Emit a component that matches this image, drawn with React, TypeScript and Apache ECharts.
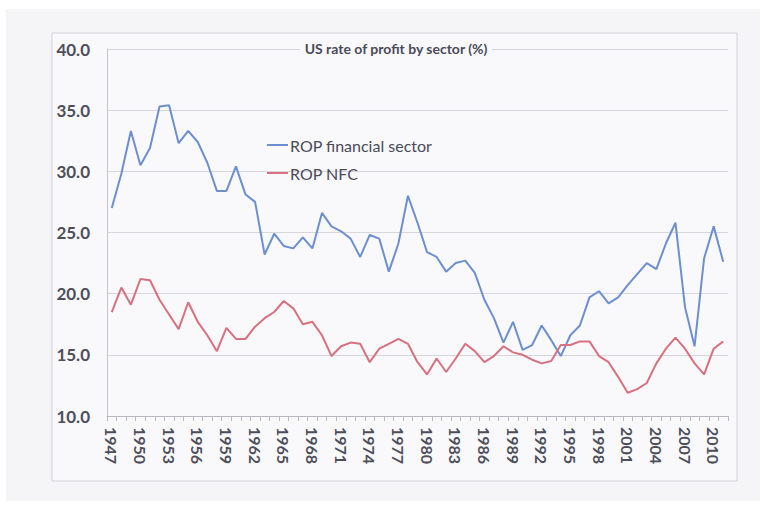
import React, { useEffect, useRef } from "react";
import * as echarts from "echarts";

const years: string[] = [];
for (let y = 1947; y <= 2011; y++) years.push(String(y));

const financial = [
  27.0, 29.8, 33.3, 30.5, 31.9, 35.3, 35.4, 32.3, 33.3, 32.4,
  30.7, 28.4, 28.4, 30.4, 28.1, 27.5, 23.2, 24.9, 23.9, 23.7,
  24.6, 23.7, 26.6, 25.5, 25.1, 24.5, 23.0, 24.8, 24.5, 21.8,
  24.1, 28.0, 25.8, 23.4, 23.0, 21.8, 22.5, 22.7, 21.7, 19.5,
  18.0, 16.0, 17.7, 15.4, 15.8, 17.4, 16.2, 14.9, 16.6, 17.4,
  19.7, 20.2, 19.2, 19.7, 20.7, 21.6, 22.5, 22.0, 24.1, 25.8,
  18.9, 15.7, 22.9, 25.5, 22.6,
];

const nfc = [
  18.5, 20.5, 19.1, 21.2, 21.1, 19.5, 18.3, 17.1, 19.3, 17.7,
  16.6, 15.3, 17.2, 16.3, 16.3, 17.3, 18.0, 18.5, 19.4, 18.8,
  17.5, 17.7, 16.6, 14.9, 15.7, 16.0, 15.9, 14.4, 15.5, 15.9,
  16.3, 15.9, 14.4, 13.4, 14.7, 13.6, 14.7, 15.9, 15.3, 14.4,
  14.9, 15.7, 15.2, 15.0, 14.6, 14.3, 14.5, 15.8, 15.8, 16.1,
  16.1, 14.9, 14.4, 13.2, 11.9, 12.2, 12.7, 14.3, 15.5, 16.4,
  15.5, 14.3, 13.4, 15.5, 16.1,
];

const seriesNames = ["ROP financial sector", "ROP NFC"];
const titleText = "US rate of profit by sector (%)";

const FONT = "Lato, 'Open Sans', sans-serif";

export default function App() {
  const ref = useRef<HTMLDivElement>(null);
  useEffect(() => {
    if (!ref.current) return;
    const chart = echarts.init(ref.current, undefined, { renderer: "svg" });
    chart.setOption({
      animation: false,
      backgroundColor: "#ffffff",
      graphic: [
        {
          type: "rect",
          z: -100,
          shape: { x: 6, y: 9, width: 754, height: 492 },
          style: { fill: "#f5f5f8" },
          silent: true,
        },
        {
          type: "rect",
          z: -99,
          shape: { x: 52, y: 33, width: 685, height: 448 },
          style: { fill: "#f9f9fc", stroke: "#cfcfd6", lineWidth: 1 },
          silent: true,
        },
      ],
      title: {
        text: titleText,
        left: 392,
        textAlign: "center",
        top: 41,
        padding: [0, 4],
        backgroundColor: "#f9f9fc",
        textStyle: {
          fontFamily: FONT,
          fontSize: 14,
          fontWeight: "bold",
          color: "#4a4a58",
        },
      },
      legend: {
        orient: "vertical",
        left: 262,
        top: 132,
        icon: "rect",
        itemWidth: 21,
        itemHeight: 2,
        itemGap: 12,
        data: seriesNames,
        textStyle: {
          fontFamily: FONT,
          fontSize: 16,
          color: "#4a4a58",
          padding: [0, 0, 0, -3],
        },
      },
      grid: {
        left: 107,
        right: 37,
        top: 49,
        bottom: 92,
      },
      xAxis: {
        type: "category",
        data: years,
        boundaryGap: true,
        axisLine: { lineStyle: { color: "#b8b8c0", width: 1 } },
        axisTick: { show: true, interval: 0, length: 5, lineStyle: { color: "#b8b8c0" } },
        axisLabel: {
          interval: 2,
          rotate: -90,
          margin: 11,
          fontFamily: FONT,
          fontSize: 16,
          fontWeight: "bold",
          color: "#4e4e5a",
        },
      },
      yAxis: {
        type: "value",
        min: 10,
        max: 40,
        interval: 5,
        axisLine: { show: true, lineStyle: { color: "#c4c4cc" } },
        axisTick: { show: false },
        splitLine: { lineStyle: { color: "#d6d6dc", width: 1 } },
        axisLabel: {
          margin: 17,
          formatter: (v: number) => v.toFixed(1),
          fontFamily: FONT,
          fontSize: 17,
          fontWeight: "bold",
          color: "#4e4e5a",
        },
      },
      series: [
        {
          name: seriesNames[0],
          type: "line",
          data: financial,
          showSymbol: false,
          lineStyle: { color: "#6d8fd1", width: 2 },
          itemStyle: { color: "#6d8fd1" },
        },
        {
          name: seriesNames[1],
          type: "line",
          data: nfc,
          showSymbol: false,
          lineStyle: { color: "#d9707f", width: 2 },
          itemStyle: { color: "#d9707f" },
        },
      ],
    });
    return () => chart.dispose();
  }, []);
  return (
    <div
      ref={ref}
      style={{ position: "fixed", left: 0, top: 0, width: 765, height: 508 }}
    />
  );
}
